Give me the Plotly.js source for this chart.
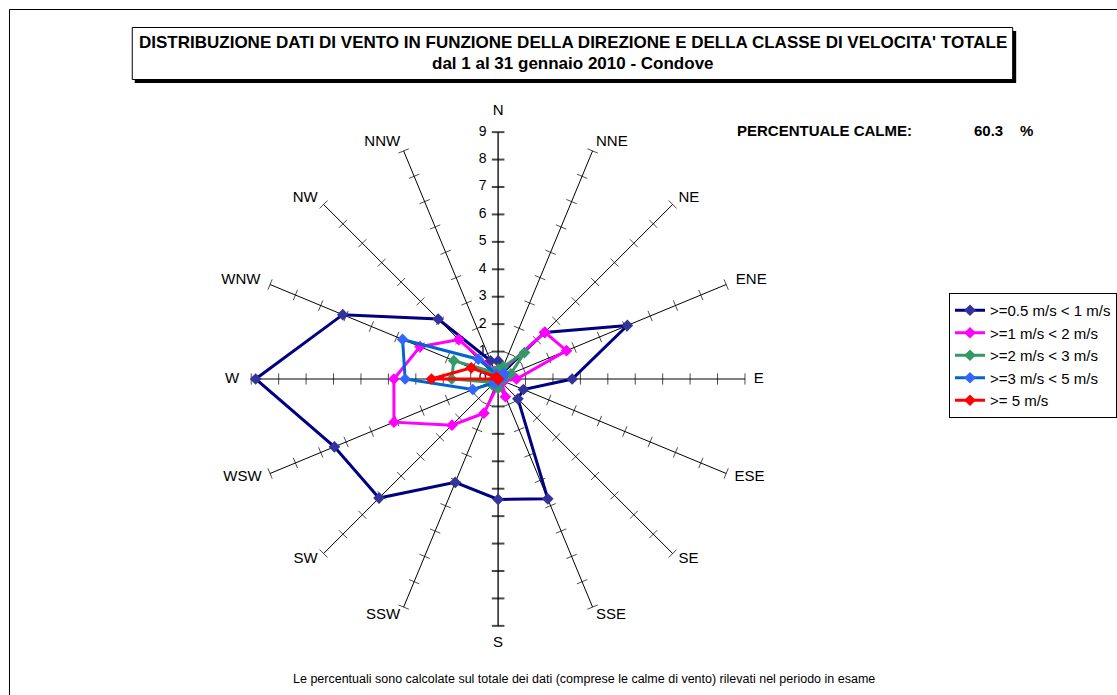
<!DOCTYPE html>
<html><head><meta charset="utf-8">
<script src="https://cdn.plot.ly/plotly-3.0.1.min.js"></script>
<style>html,body{margin:0;padding:0;background:#fff}</style>
</head><body><div id="chart" style="width:1117px;height:695px"></div>
<script>
// ---- data ----
const directions = ['N','NNE','NE','ENE','E','ESE','SE','SSE','S','SSW','SW','WSW','W','WNW','NW','NNW'];
const radialTicks = [0,1,2,3,4,5,6,7,8,9];
const seriesNames = ['>=0.5 m/s < 1 m/s','>=1 m/s < 2 m/s','>=2 m/s < 3 m/s','>=3 m/s < 5 m/s','>= 5 m/s'];
const v05to1 = [0.65,0.2,2.4,5.1,2.7,1.0,1.02,4.73,4.39,4.08,6.14,6.46,8.84,6.13,3.09,0.72];
const v1to2  = [0.2,0.3,2.41,2.7,0.67,0.2,0.2,0.7,0.2,1.35,2.38,4.11,3.8,3.08,2.03,0.3];
const v2to3  = [0.35,0.48,1.36,0.5,0.2,0.1,0.1,0.1,0.34,0.2,0.3,0.3,1.69,1.75,0.4,0.2];
const v3to5  = [0.1,0.1,0.3,0.2,0.1,0.05,0.05,0.05,0.1,0.1,0.2,1.0,3.39,3.77,1.02,0.2];
const v5up   = [0,0,0,0,0,0,0,0,0,0,0,0,2.43,1.06,0.1,0];
const calmPercent = '60.3';
const titleLine1 = "DISTRIBUZIONE DATI DI VENTO IN FUNZIONE DELLA DIREZIONE E DELLA CLASSE DI VELOCITA' TOTALE";
const titleLine2 = "dal 1 al 31 gennaio 2010 - Condove";
const footNote = "Le percentuali sono calcolate sul totale dei dati (comprese le calme di vento) rilevati nel periodo in esame";

// ---- styles ----
const lineColors = ['#000080','#FF00FF','#339966','#0066CC','#FF0000'];
const markerColors = ['#333399','#FF00FF','#339966','#3366FF','#FF0000'];
const seriesValues = [v05to1, v1to2, v2to3, v3to5, v5up];
const FONT = 'Liberation Sans, Arial, sans-serif';
const W = 1117, H = 695;
const px = x => x / W, py = y => 1 - y / H;
const rMax = radialTicks[radialTicks.length-1];
const rangeMax = 9.8;
const NB = '\u00a0';
// direction label placement (style only)
const labelPos = {N:['middle center',9.75], NNE:['middle right',9.33], NE:['middle right',9.3], ENE:['middle right',9.38],
  E:['middle center',9.5], ESE:['middle right',9.33], SE:['middle right',9.3], SSE:['middle right',9.33],
  S:['middle center',9.62], SSW:['middle left',9.33], SW:['middle left',9.3], WSW:['middle left',9.33],
  W:['middle center',9.7], WNW:['middle left',9.38], NW:['middle left',9.3], NNW:['middle left',9.33]};

const traces = [];
// spokes (axis lines), N-S slightly heavier
const sr=[], st=[];
directions.forEach(d=>{ if(d!=='N' && d!=='S'){ sr.push(0,rMax,null); st.push(d,d,d);} });
traces.push({type:'scatterpolar', r:sr, theta:st, mode:'lines', connectgaps:false,
  line:{color:'#000', width:1}, showlegend:false, hoverinfo:'skip', cliponaxis:false});
traces.push({type:'scatterpolar', r:[rMax,0,rMax], theta:['N','N','S'], mode:'lines',
  line:{color:'#000', width:1.3}, showlegend:false, hoverinfo:'skip', cliponaxis:false});
// W-E gray axis line
traces.push({type:'scatterpolar', r:[rMax,0,rMax], theta:['W','W','E'],
  mode:'lines', line:{color:'#808080', width:2}, showlegend:false, hoverinfo:'skip', cliponaxis:false});
// tick crosses on every spoke
const tr=[], tt=[], ta=[], tw=[], ts=[];
directions.forEach((d,i)=>{
  radialTicks.slice(1).forEach(v=>{
    tr.push(v); tt.push(d); ta.push(i*22.5);
    const ns = (d==='N'||d==='S');
    tw.push(ns?2:1); ts.push(ns?9:8);
  });
});
traces.push({type:'scatterpolar', r:tr, theta:tt, mode:'markers', showlegend:false, hoverinfo:'skip', cliponaxis:false,
  marker:{symbol:'line-ew', size:ts, angle:ta, color:'#000', line:{color:'#000', width:tw}}});
// direction labels
traces.push({type:'scatterpolar', r:directions.map(d=>labelPos[d][1]), theta:directions, mode:'text', text:directions,
  textposition:directions.map(d=>labelPos[d][0]), textfont:{size:15, family:FONT, color:'#000'},
  showlegend:false, hoverinfo:'skip', cliponaxis:false});
// radial value labels on the N spoke
traces.push({type:'scatterpolar', r:radialTicks, theta:radialTicks.map(()=>'N'), mode:'text',
  text:radialTicks.map(v=>String(v)+NB+NB+NB), textposition:'middle left',
  textfont:{size:14, family:FONT, color:'#000'}, showlegend:false, hoverinfo:'skip', cliponaxis:false});
// data series
seriesValues.forEach((vals,k)=>{
  traces.push({type:'scatterpolar', name:seriesNames[k], r:vals.concat([vals[0]]), theta:directions.concat([directions[0]]),
    mode:'lines+markers', cliponaxis:false,
    line:{color:lineColors[k], width:3},
    marker:{symbol:'diamond', size:9, color:markerColors[k], line:{width:0}}});
});

const cx = 499, cy = 379, rad = 247.3 * rangeMax / rMax;
const layout = {
  width:W, height:H, margin:{l:0,r:0,t:0,b:0}, paper_bgcolor:'#fff',
  font:{family:FONT, color:'#000', size:14},
  showlegend:true,
  polar:{
    domain:{x:[px(cx-rad), px(cx+rad)], y:[py(cy+rad), py(cy-rad)]},
    bgcolor:'rgba(0,0,0,0)',
    radialaxis:{range:[0,rangeMax], showline:false, showgrid:false, showticklabels:false, ticks:''},
    angularaxis:{type:'category', categoryarray:directions, direction:'clockwise', rotation:90,
      showline:false, showgrid:false, showticklabels:false, ticks:''}
  },
  legend:{x:px(951), y:py(293), xanchor:'left', yanchor:'top', bgcolor:'#fff', bordercolor:'#000', borderwidth:1,
    font:{size:15, family:FONT, color:'#000'}, itemwidth:30, tracegroupgap:0},
  shapes:[
    {type:'rect', xref:'paper', yref:'paper', x0:px(9.5), x1:px(1130), y0:py(9.5), y1:py(710), line:{color:'#000', width:1}},
    {type:'rect', xref:'paper', yref:'paper', x0:px(135), x1:px(1018), y0:py(31), y1:py(83), fillcolor:'#000', line:{width:0}},
    {type:'rect', xref:'paper', yref:'paper', x0:px(132.5), x1:px(1014.5), y0:py(27.5), y1:py(79.5), fillcolor:'#fff', line:{color:'#000', width:1}}
  ],
  annotations:[
    {xref:'paper', yref:'paper', x:px(574), y:py(42.5), xanchor:'center', yanchor:'middle', showarrow:false,
      text:'<b>'+titleLine1+'</b>', font:{size:17, family:FONT, color:'#000'}},
    {xref:'paper', yref:'paper', x:px(574), y:py(63.5), xanchor:'center', yanchor:'middle', showarrow:false,
      text:'<b>'+titleLine2+'</b>', font:{size:17, family:FONT, color:'#000'}},
    {xref:'paper', yref:'paper', x:px(736), y:py(131), xanchor:'left', yanchor:'middle', showarrow:false,
      text:'<b>PERCENTUALE CALME:</b>', font:{size:15, family:FONT, color:'#000'}},
    {xref:'paper', yref:'paper', x:px(974), y:py(131), xanchor:'left', yanchor:'middle', showarrow:false,
      text:'<b>'+calmPercent+'</b>', font:{size:15, family:FONT, color:'#000'}},
    {xref:'paper', yref:'paper', x:px(1020), y:py(131), xanchor:'left', yanchor:'middle', showarrow:false,
      text:'<b>%</b>', font:{size:15, family:FONT, color:'#000'}},
    {xref:'paper', yref:'paper', x:px(585), y:py(679), xanchor:'center', yanchor:'middle', showarrow:false,
      text:footNote, font:{size:12.5, family:FONT, color:'#000'}}
  ]
};
Plotly.newPlot('chart', traces, layout, {displayModeBar:false, staticPlot:true});
</script></body></html>
